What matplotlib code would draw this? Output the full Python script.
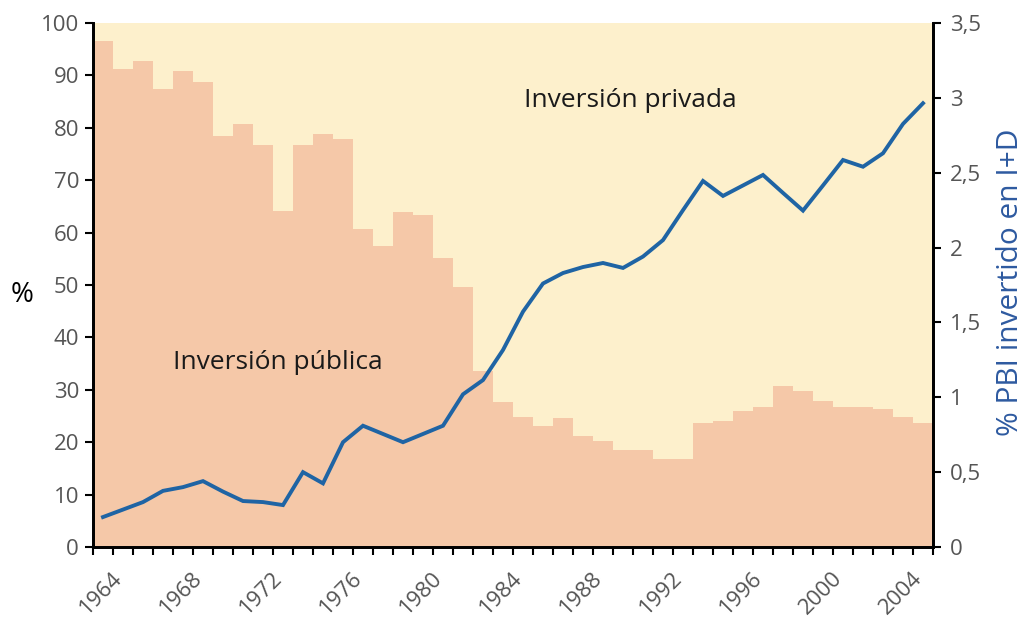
import matplotlib
matplotlib.use("Agg")
import matplotlib.pyplot as plt
import matplotlib.transforms as mtransforms
import numpy as np

plt.rcParams['font.family'] = ['Open Sans', 'DejaVu Sans']

years = list(range(1964, 2006))
publica = [96.5, 91.3, 92.7, 87.5, 90.8, 88.7, 78.4, 80.7, 76.8, 64.1,
           76.8, 78.8, 77.8, 60.7, 57.4, 64.0, 63.4, 55.1, 49.7, 33.5,
           27.7, 24.9, 23.0, 24.7, 21.1, 20.3, 18.5, 18.5, 16.8, 16.8,
           23.6, 24.1, 26.0, 26.7, 30.7, 29.8, 27.9, 26.7, 26.7, 26.3,
           24.8, 23.6]
pbi_id = [0.20, 0.25, 0.30, 0.375, 0.40, 0.44, 0.37, 0.307, 0.30, 0.28,
          0.50, 0.425, 0.70, 0.81, 0.755, 0.70, 0.755, 0.81, 1.02, 1.115,
          1.316, 1.572, 1.76, 1.83, 1.87, 1.897, 1.864, 1.94, 2.05, 2.25,
          2.445, 2.345, 2.415, 2.485, 2.365, 2.247, 2.415, 2.585, 2.54, 2.63,
          2.826, 2.964]
left_ticks = list(range(0, 101, 10))
right_ticks = [0, 0.5, 1, 1.5, 2, 2.5, 3, 3.5]
right_labels = ['0', '0,5', '1', '1,5', '2', '2,5', '3', '3,5']
year_labels = list(range(1964, 2005, 4))

bar_color = '#F5C8A8'
bg_color = '#FDF0CC'
line_color = '#1F64A4'
tick_gray = '#555555'

fig = plt.figure(figsize=(10.3, 6.18), dpi=100)
ax = fig.add_axes([93/1030, 71/618, 840/1030, 524/618])
ax.set_facecolor(bg_color)
ax.bar(years, publica, width=1.0, color=bar_color, edgecolor='none', zorder=1)
ax.set_xlim(1963.5, 2005.5)
ax.set_ylim(0, 100)
ax.set_yticks(left_ticks)
ax.tick_params(axis='y', labelsize=16, colors=tick_gray, length=6, width=1.5, pad=4)
ax.tick_params(axis='y', color='black')

# x ticks: minor ticks at year boundaries, labels every 4 years
ax.set_xticks([y + 0.5 for y in range(1963, 2006)], minor=True)
ax.set_xticks(year_labels)
ax.set_xticklabels([str(y) for y in year_labels])
ax.tick_params(axis='x', which='major', length=0, pad=20, labelsize=16, labelcolor=tick_gray)
ax.tick_params(axis='x', which='minor', length=6, width=1.5, color='black')
offset = mtransforms.ScaledTranslation(16/100, 0, fig.dpi_scale_trans)
for lab in ax.get_xticklabels():
    lab.set_rotation(45)
    lab.set_rotation_mode('anchor')
    lab.set_ha('right')
    lab.set_va('center')
    lab.set_transform(lab.get_transform() + offset)

for s in ['left', 'bottom', 'right']:
    ax.spines[s].set_linewidth(2)
    ax.spines[s].set_color('black')
ax.spines['top'].set_visible(False)

ax.set_ylabel('%', rotation=0, fontsize=20, color='black', va='center', ha='center')
ax.yaxis.set_label_coords(-0.0845, 0.48)

ax.text(1990.35, 85.3, 'Inversión privada', fontsize=19, color='#1a1a1a', ha='center', va='center')
ax.text(1972.75, 35.3, 'Inversión pública', fontsize=19, color='#1a1a1a', ha='center', va='center')

ax2 = ax.twinx()
ax2.plot(years, pbi_id, color=line_color, lw=2.8, solid_joinstyle='miter', zorder=3)
ax2.set_ylim(0, 3.5)
ax2.set_yticks(right_ticks)
ax2.set_yticklabels(right_labels)
ax2.tick_params(axis='y', labelsize=16, labelcolor=tick_gray, length=6, width=1.5, pad=6)
for s in ['left', 'bottom', 'right']:
    ax2.spines[s].set_linewidth(2)
ax2.spines['top'].set_visible(False)
ax2.set_ylabel('% PBI invertido en I+D', fontsize=21.5, color='#2E5AA0', rotation=90, va='center', ha='center')
ax2.yaxis.set_label_coords(1.0917, 0.505)

fig.savefig('out.png', dpi=100)
